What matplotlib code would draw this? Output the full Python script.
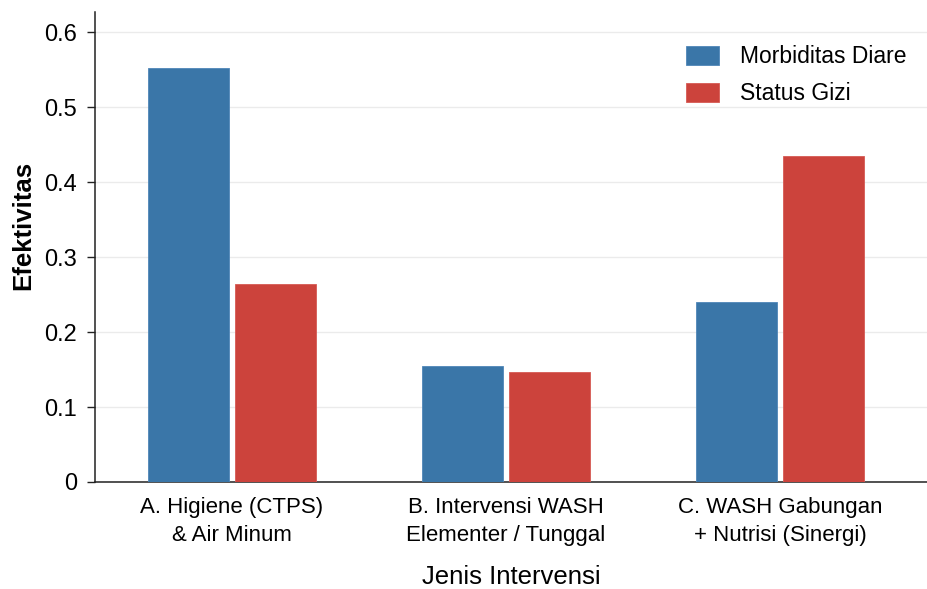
import matplotlib
matplotlib.use("Agg")
import matplotlib.pyplot as plt
import numpy as np
from matplotlib.ticker import FuncFormatter

categories = ["A. Higiene (CTPS)\n& Air Minum",
              "B. Intervensi WASH\nElementer / Tunggal",
              "C. WASH Gabungan\n+ Nutrisi (Sinergi)"]
morbiditas = [0.552, 0.155, 0.240]
status_gizi = [0.264, 0.147, 0.435]
series_names = ["Morbiditas Diare", "Status Gizi"]
yticks = [0, 0.1, 0.2, 0.3, 0.4, 0.5, 0.6]

plt.rcParams['font.family'] = ['Liberation Sans', 'DejaVu Sans']

fig = plt.figure(figsize=(9.28, 5.89), dpi=100)
ax = fig.add_axes([0.1024, 0.1817, 0.8976, 0.7979])

x = np.arange(len(categories))
w = 0.296
off = 0.16
blue = "#3a76a8"
red = "#cc433c"
ax.bar(x - off, morbiditas, w, color=blue, edgecolor="#4f86b8", linewidth=0.6,
       label=series_names[0], zorder=3)
ax.bar(x + off, status_gizi, w, color=red, edgecolor="#d65a54", linewidth=0.6,
       label=series_names[1], zorder=3)

ax.set_xlim(-0.5, 2.54)
ax.set_ylim(0, 0.627)
ax.set_yticks(yticks)
ax.yaxis.set_major_formatter(FuncFormatter(lambda v, p: "0" if abs(v) < 1e-9 else f"{v:.1f}"))
ax.set_xticks(x)
ax.set_xticklabels(categories, fontsize=16, linespacing=1.4)
ax.tick_params(axis='x', length=0, pad=11)
ax.tick_params(axis='y', length=6, width=1, labelsize=17, pad=7, color="#222222")

ax.grid(axis='y', color="#ebebeb", linewidth=1, zorder=0)
for s in ["top", "right"]:
    ax.spines[s].set_visible(False)
for s in ["left", "bottom"]:
    ax.spines[s].set_color("#222222")
    ax.spines[s].set_linewidth(1.1)

ax.set_ylabel("Efektivitas", fontsize=18.5, fontweight='semibold')
ax.yaxis.set_label_coords(-0.072, 0.545)
ax.set_xlabel("Jenis Intervensi", fontsize=18.5, labelpad=14)

leg = ax.legend(loc="upper right", bbox_to_anchor=(0.994, 0.963), frameon=False,
                fontsize=16.5, handlelength=1.44, handleheight=0.87,
                handletextpad=0.92, labelspacing=0.6, borderaxespad=0.3)

fig.savefig("out.png", dpi=100, facecolor="white")
